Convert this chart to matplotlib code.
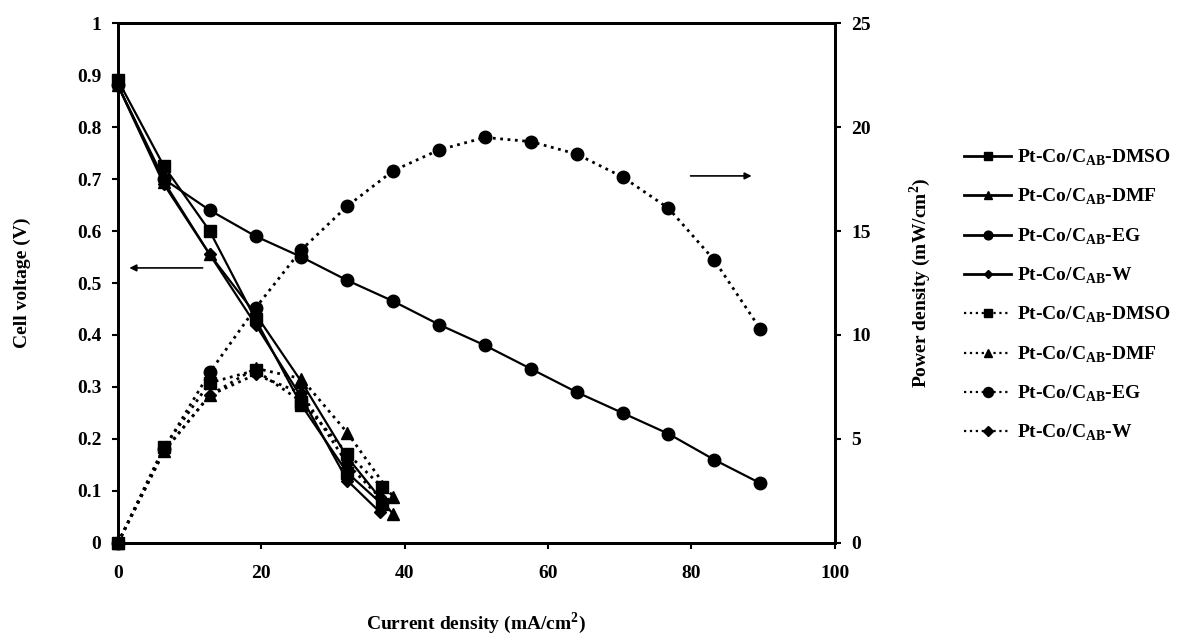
import numpy as np
import matplotlib
matplotlib.use("Agg")
import matplotlib.pyplot as plt

plt.rcParams["font.family"] = ["Liberation Serif", "DejaVu Serif"]
plt.rcParams["font.weight"] = "bold"
plt.rcParams["mathtext.fontset"] = "custom"
plt.rcParams["mathtext.rm"] = "Liberation Serif:bold"
plt.rcParams["mathtext.bf"] = "Liberation Serif:bold"

# ------------------------------------------
# Data
# ------------------------------------------
current_short = [0, 6.4, 12.8, 19.2, 25.6, 32.0]
current_eg = [0, 6.4, 12.8, 19.2, 25.6, 32.0, 38.4, 44.8, 51.2, 57.6,
              64.0, 70.4, 76.8, 83.2, 89.6]

# DMSO
i_dmso = current_short + [36.8]
v_dmso = [0.89, 0.725, 0.60, 0.43, 0.265, 0.135, 0.075]
p_dmso = [0.0, 4.6, 7.7, 8.3, 6.8, 4.3, 2.7]

# DMF
i_dmf = current_short + [38.4]
v_dmf = [0.88, 0.695, 0.555, 0.44, 0.31, 0.165, 0.055]
p_dmf = [0.0, 4.4, 7.1, 8.4, 7.9, 5.3, 2.2]

# EG
v_eg = [0.88, 0.70, 0.64, 0.59, 0.55, 0.505, 0.465, 0.42, 0.38, 0.335,
        0.29, 0.25, 0.21, 0.16, 0.115]
p_eg = [0.0, 4.5, 8.2, 11.3, 14.1, 16.2, 17.9, 18.9, 19.5, 19.3,
        18.7, 17.6, 16.1, 13.6, 10.3]

# W
i_w = current_short + [36.5]
v_w = [0.88, 0.69, 0.555, 0.42, 0.28, 0.12, 0.06]
p_w = [0.0, 4.4, 7.1, 8.1, 7.2, 3.8, 2.2]

label_base = r"Pt-Co/C$_{\mathbf{AB}}$-"
names = ["DMSO", "DMF", "EG", "W"]

# ------------------------------------------
# Plot
# ------------------------------------------
fig = plt.figure(figsize=(11.88, 6.41), dpi=100)
ax = fig.add_axes([0.0993, 0.153, 0.6033, 0.811])
ax2 = ax.twinx()

v_sets = [(i_dmso, v_dmso, "s", 8), (i_dmf, v_dmf, "^", 8),
          (current_eg, v_eg, "o", 9), (i_w, v_w, "D", 6)]
p_sets = [(i_dmso, p_dmso, "s", 8), (i_dmf, p_dmf, "^", 8),
          (current_eg, p_eg, "o", 9), (i_w, p_w, "D", 6)]

handles = []
for (x, y, m, ms), name in zip(v_sets, names):
    ax.plot(x, y, color="black", lw=1.6, marker=m, ms=ms,
            clip_on=False, zorder=3)
    handles.append(ax.plot([], [], color="black", lw=2.0, marker=m,
                           ms=ms * 0.7, label=label_base + name)[0])

for (x, y, m, ms), name in zip(p_sets, names):
    ax2.plot(x, y, color="black", lw=2.0, ls=":", marker=m, ms=ms,
             clip_on=False, zorder=3)
    handles.append(ax.plot([], [], color="black", lw=1.6, ls=":", marker=m,
                           ms=ms * 0.8, label=label_base + name)[0])

ax.set_xlim(0, 100)
ax.set_ylim(0, 1)
ax2.set_ylim(0, 25)
ax.set_xticks([0, 20, 40, 60, 80, 100])
ax.set_yticks(np.arange(0, 1.01, 0.1))
ax.set_yticklabels(["0", "0.1", "0.2", "0.3", "0.4", "0.5", "0.6", "0.7",
                    "0.8", "0.9", "1"])
ax2.set_yticks([0, 5, 10, 15, 20, 25])

for a in (ax, ax2):
    a.tick_params(direction="out", length=4, width=1.5, labelsize=14, pad=8)
    for s in a.spines.values():
        s.set_linewidth(2)
ax.tick_params(axis="x", pad=12)

ax.set_xlabel("Current density (mA/cm$^{\\mathbf{2}}$)", fontsize=14,
              fontweight="bold", labelpad=20)
ax.set_ylabel("Cell voltage (V)", fontsize=14, fontweight="bold", labelpad=33)
ax2.set_ylabel("Power density (mW/cm$^{\\mathbf{2}}$)", fontsize=14,
               fontweight="bold", labelpad=26)

# Arrows pointing to the relevant axes
ax.annotate("", xy=(1.2, 0.529), xytext=(12.2, 0.529),
            arrowprops=dict(arrowstyle="-|>", color="black", lw=1.2))
ax.annotate("", xy=(88.8, 0.706), xytext=(79.5, 0.706),
            arrowprops=dict(arrowstyle="-|>", color="black", lw=1.2))

fig.legend(handles=handles, loc="upper left", bbox_to_anchor=(0.797, 0.797),
           frameon=False, fontsize=14, handlelength=2.4, labelspacing=0.98,
           handletextpad=0.3)

fig.savefig("out.png", dpi=100)
